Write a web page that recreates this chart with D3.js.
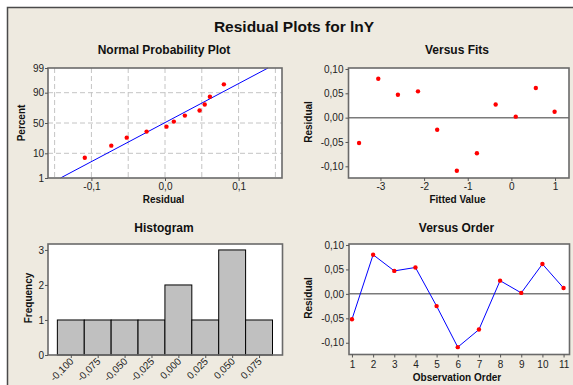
<!DOCTYPE html>
<html>
<head>
<meta charset="utf-8">
<script src="https://cdn.jsdelivr.net/npm/d3@7"></script>
<style>
  body { margin: 0; background: #fff; }
  text { font-family: "Liberation Sans", Arial, sans-serif; }
</style>
</head>
<body>
<div id="chart"></div>
<script>
// values
const observations = [1, 2, 3, 4, 5, 6, 7, 8, 9, 10, 11];
const residuals = [-0.052, 0.080, 0.047, 0.054, -0.025, -0.109, -0.073, 0.027, 0.002, 0.061, 0.012];
const fittedValues = [-3.49, -3.05, -2.60, -2.14, -1.70, -1.25, -0.79, -0.36, 0.10, 0.56, 0.99];
// percent position of each residual (smallest to largest) on the probability plot
const normalPercents = [7.1, 16.9, 26.8, 35.8, 43.9, 52.4, 62.3, 70.1, 78.3, 86.7, 94.9];
const fitLineResiduals = [-0.142, 0.140];
const fitLinePercents = [1, 99];
const binCenters = [-0.100, -0.075, -0.050, -0.025, 0.000, 0.025, 0.050, 0.075];
const frequencies = [1, 1, 1, 1, 2, 1, 3, 1];

const percentTicks = [1, 10, 50, 90, 99];
const percentGrid = [10, 50, 90];
const npResidualTicks = [-0.1, 0, 0.1];
const npResidualGrid = [-0.15, -0.1, -0.05, 0, 0.05, 0.1, 0.15];
const residualTicks = [-0.10, -0.05, 0, 0.05, 0.10];
const fitTicks = [-3, -2, -1, 0, 1];
const frequencyTicks = [0, 1, 2, 3];

const locale = d3.formatLocale({ decimal: ',', thousands: '.', grouping: [3], currency: ['', ''], minus: '-' });
const f1 = locale.format('.1f');
const f2 = locale.format('.2f');
const f3 = locale.format('.3f');

// inverse normal cdf (Acklam) for the probability scale
function probit(p) {
  const a = [-39.69683028665376, 220.9460984245205, -275.9285104469687, 138.3577518672690, -30.66479806614716, 2.506628277459239];
  const b = [-54.47609879822406, 161.5858368580409, -155.6989798598866, 66.80131188771972, -13.28068155288572];
  const c = [-0.007784894002430293, -0.3223964580411365, -2.400758277161838, -2.549732539343734, 4.374664141464968, 2.938163982698783];
  const d = [0.007784695709041462, 0.3224671290700398, 2.445134137142996, 3.754408661907416];
  const tail = q => (((((c[0] * q + c[1]) * q + c[2]) * q + c[3]) * q + c[4]) * q + c[5]) / ((((d[0] * q + d[1]) * q + d[2]) * q + d[3]) * q + 1);
  if (p < 0.02425) return tail(Math.sqrt(-2 * Math.log(p)));
  if (p > 1 - 0.02425) return -tail(Math.sqrt(-2 * Math.log(1 - p)));
  const q = p - 0.5;
  const r = q * q;
  return (((((a[0] * r + a[1]) * r + a[2]) * r + a[3]) * r + a[4]) * r + a[5]) * q / (((((b[0] * r + b[1]) * r + b[2]) * r + b[3]) * r + b[4]) * r + 1);
}

const svg = d3.select('#chart').append('svg')
  .attr('width', 573)
  .attr('height', 385);

svg.append('rect')
  .attr('x', 7.5).attr('y', 7.5)
  .attr('width', 620).attr('height', 420)
  .attr('fill', '#eeeae0')
  .attr('stroke', '#4a4a4a')
  .attr('stroke-width', 1.5);

svg.append('text')
  .attr('x', 294).attr('y', 32)
  .attr('text-anchor', 'middle')
  .attr('font-size', 15.5).attr('font-weight', 'bold')
  .attr('fill', '#111')
  .text('Residual Plots for lnY');

const boxes = {
  np: { x0: 48, x1: 282, y0: 68, y1: 178 },
  fits: { x0: 348.5, x1: 569, y0: 68, y1: 178 },
  hist: { x0: 48, x1: 282.5, y0: 244, y1: 355 },
  order: { x0: 349, x1: 569.5, y0: 244, y1: 354.5 },
};

function panelBack(b) {
  svg.append('rect')
    .attr('x', b.x0).attr('y', b.y0)
    .attr('width', b.x1 - b.x0).attr('height', b.y1 - b.y0)
    .attr('fill', '#fff');
}

function panelFrame(b) {
  svg.append('rect')
    .attr('x', b.x0).attr('y', b.y0)
    .attr('width', b.x1 - b.x0).attr('height', b.y1 - b.y0)
    .attr('fill', 'none')
    .attr('stroke', '#6a6a6a')
    .attr('stroke-width', 1.6);
}

function title(text, x, y) {
  svg.append('text')
    .attr('x', x).attr('y', y)
    .attr('text-anchor', 'middle')
    .attr('font-size', 12).attr('font-weight', 'bold')
    .attr('fill', '#111')
    .text(text);
}

function axisLabel(text, x, y, rotate) {
  svg.append('text')
    .attr('transform', `translate(${x},${y})${rotate ? ' rotate(-90)' : ''}`)
    .attr('text-anchor', 'middle')
    .attr('font-size', 10).attr('font-weight', 'bold')
    .attr('fill', '#111')
    .text(text);
}

function styleAxis(g) {
  g.attr('font-family', '"Liberation Sans", Arial, sans-serif').attr('font-size', 10);
  g.select('.domain').remove();
  g.selectAll('.tick line').attr('stroke', '#555');
  g.selectAll('.tick text').attr('fill', '#222');
}

// ---- Normal Probability Plot
const npBox = boxes.np;
const npX = d3.scaleLinear().domain([-0.159, 0.159]).range([npBox.x0, npBox.x1]);
const npY = d3.scaleLinear().domain([probit(0.01), probit(0.99)]).range([npBox.y1, npBox.y0]);
const npYp = p => npY(probit(p / 100));

panelBack(npBox);
svg.append('g').selectAll('line').data(npResidualGrid).enter().append('line')
  .attr('x1', d => npX(d)).attr('x2', d => npX(d))
  .attr('y1', npBox.y0).attr('y2', npBox.y1)
  .attr('stroke', '#c4c4c4').attr('stroke-dasharray', '5,3');
svg.append('g').selectAll('line').data(percentGrid).enter().append('line')
  .attr('x1', npBox.x0).attr('x2', npBox.x1)
  .attr('y1', d => npYp(d)).attr('y2', d => npYp(d))
  .attr('stroke', '#c4c4c4').attr('stroke-dasharray', '5,3');

svg.append('path')
  .datum(fitLineResiduals.map((r, i) => [r, fitLinePercents[i]]))
  .attr('d', d3.line().x(d => npX(d[0])).y(d => npYp(d[1])))
  .attr('stroke', '#0000ff').attr('stroke-width', 1).attr('fill', 'none');

const sortedResiduals = residuals.slice().sort(d3.ascending);
svg.append('g').selectAll('circle').data(sortedResiduals).enter().append('circle')
  .attr('cx', d => npX(d))
  .attr('cy', (d, i) => npYp(normalPercents[i]))
  .attr('r', 2.2)
  .attr('fill', '#ff0000');

panelFrame(npBox);
svg.append('g')
  .attr('transform', `translate(0,${npBox.y1})`)
  .call(d3.axisBottom(npX).tickValues(npResidualTicks).tickSize(3).tickPadding(2).tickFormat(f1))
  .call(styleAxis);
svg.append('g')
  .attr('transform', `translate(${npBox.x0},0)`)
  .call(d3.axisLeft(d3.scaleLinear().domain(npY.domain()).range(npY.range()))
    .tickValues(percentTicks.map(p => probit(p / 100))).tickSize(3).tickPadding(1)
    .tickFormat((d, i) => percentTicks[i]))
  .call(styleAxis);
title('Normal Probability Plot', 164, 54);
axisLabel('Residual', 163.5, 202.5);
axisLabel('Percent', 24.5, 123, true);

// ---- Versus Fits
const fitsBox = boxes.fits;
const fitsX = d3.scaleLinear().domain([-3.732, 1.32]).range([fitsBox.x0, fitsBox.x1]);
const fitsY = d3.scaleLinear().domain([-0.124, 0.102]).range([fitsBox.y1, fitsBox.y0]);

panelBack(fitsBox);
svg.append('line')
  .attr('x1', fitsBox.x0).attr('x2', fitsBox.x1)
  .attr('y1', fitsY(0)).attr('y2', fitsY(0))
  .attr('stroke', '#7a7a7a').attr('stroke-width', 1.5);
svg.append('g').selectAll('circle').data(residuals).enter().append('circle')
  .attr('cx', (d, i) => fitsX(fittedValues[i]))
  .attr('cy', d => fitsY(d))
  .attr('r', 2.2)
  .attr('fill', '#ff0000');
panelFrame(fitsBox);
svg.append('g')
  .attr('transform', `translate(0,${fitsBox.y1})`)
  .call(d3.axisBottom(fitsX).tickValues(fitTicks).tickSize(3).tickPadding(2).tickFormat(d3.format('d')))
  .call(g => g.selectAll('.tick text').text(d => String(d)))
  .call(styleAxis);
svg.append('g')
  .attr('transform', `translate(${fitsBox.x0},0)`)
  .call(d3.axisLeft(fitsY).tickValues(residualTicks).tickSize(3).tickPadding(2).tickFormat(f2))
  .call(styleAxis);
title('Versus Fits', 457, 54);
axisLabel('Fitted Value', 457.5, 202.5);
axisLabel('Residual', 312, 122, true);

// ---- Histogram
const histBox = boxes.hist;
const binWidth = 0.025;
const histX = d3.scaleLinear().domain([-0.1212, 0.0968]).range([histBox.x0, histBox.x1]);
const histY = d3.scaleLinear().domain([0, 3.17]).range([histBox.y1, histBox.y0]);

panelBack(histBox);
svg.append('g').selectAll('rect').data(binCenters).enter().append('rect')
  .attr('x', d => histX(d - binWidth / 2))
  .attr('width', d => histX(d + binWidth / 2) - histX(d - binWidth / 2))
  .attr('y', (d, i) => histY(frequencies[i]))
  .attr('height', (d, i) => histY(0) - histY(frequencies[i]))
  .attr('fill', '#c0c0c0')
  .attr('stroke', '#000')
  .attr('stroke-width', 1);
panelFrame(histBox);
svg.append('g')
  .attr('transform', `translate(0,${histBox.y1})`)
  .call(d3.axisBottom(histX).tickValues(binCenters).tickSize(3).tickFormat(f3))
  .call(styleAxis)
  .call(g => g.selectAll('.tick text')
    .attr('text-anchor', 'end')
    .attr('dy', null)
    .attr('transform', 'translate(3,7) rotate(-45)')
    .attr('y', 0).attr('x', 0));
svg.append('g')
  .attr('transform', `translate(${histBox.x0},0)`)
  .call(d3.axisLeft(histY).tickValues(frequencyTicks).tickSize(3).tickPadding(1).tickFormat(d3.format('d')))
  .call(styleAxis);
title('Histogram', 164, 231.5);
axisLabel('Frequency', 32, 298, true);

// ---- Versus Order
const orderBox = boxes.order;
const orderX = d3.scaleLinear().domain([0.86, 11.28]).range([orderBox.x0, orderBox.x1]);
const orderY = d3.scaleLinear().domain([-0.124, 0.102]).range([orderBox.y1, orderBox.y0]);

panelBack(orderBox);
svg.append('line')
  .attr('x1', orderBox.x0).attr('x2', orderBox.x1)
  .attr('y1', orderY(0)).attr('y2', orderY(0))
  .attr('stroke', '#7a7a7a').attr('stroke-width', 1.5);
svg.append('path')
  .datum(residuals)
  .attr('d', d3.line().x((d, i) => orderX(observations[i])).y(d => orderY(d)))
  .attr('stroke', '#0000ff').attr('stroke-width', 1).attr('fill', 'none');
svg.append('g').selectAll('circle').data(residuals).enter().append('circle')
  .attr('cx', (d, i) => orderX(observations[i]))
  .attr('cy', d => orderY(d))
  .attr('r', 2.2)
  .attr('fill', '#ff0000');
panelFrame(orderBox);
svg.append('g')
  .attr('transform', `translate(0,${orderBox.y1})`)
  .call(d3.axisBottom(orderX).tickValues(observations).tickSize(3).tickPadding(3).tickFormat(d3.format('d')))
  .call(styleAxis);
svg.append('g')
  .attr('transform', `translate(${orderBox.x0},0)`)
  .call(d3.axisLeft(orderY).tickValues(residualTicks).tickSize(3).tickPadding(2).tickFormat(f2))
  .call(styleAxis);
title('Versus Order', 456.5, 231.5);
axisLabel('Observation Order', 457, 380.5);
axisLabel('Residual', 312, 298, true);
</script>
</body>
</html>
